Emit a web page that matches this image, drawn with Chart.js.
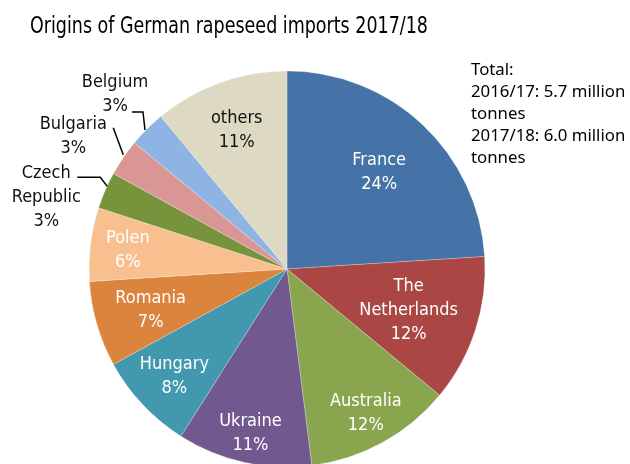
<!DOCTYPE html>
<html>
<head>
<meta charset="utf-8">
<script src="https://cdn.jsdelivr.net/npm/chart.js@4/dist/chart.umd.min.js"></script>
<style>
  html, body { margin: 0; padding: 0; background: #fff; overflow: hidden; width: 630px; height: 464px; }
  #wrap { position: absolute; left: 0; top: 0; width: 630px; height: 480px; }
</style>
</head>
<body>
<div id="wrap"><canvas id="c"></canvas></div>
<script>
// ---- data ----
const titleText = 'Origins of German rapeseed imports 2017/18';
const countries = ['France', 'The Netherlands', 'Australia', 'Ukraine', 'Hungary', 'Romania', 'Polen', 'Czech Republic', 'Bulgaria', 'Belgium', 'others'];
const shares = [24, 12, 12, 11, 8, 7, 6, 3, 3, 3, 11];
const noteLines = ['Total:', '2016/17: 5.7 million', 'tonnes', '2017/18: 6.0 million', 'tonnes'];

// ---- style ----
const colors = ['#4572A7', '#AA4643', '#89A54E', '#71588F', '#4198AF', '#DB843D', '#F9C08F', '#77933C', '#D99694', '#8EB4E3', '#DDD9C3'];
const condFamily = '"DejaVu Sans Condensed", "Liberation Sans Narrow", "DejaVu Sans", sans-serif';
const labelFont = '18px ' + condFamily;
// label line-breaks (layout only)
const labelLines = [['France'], ['The', 'Netherlands'], ['Australia'], ['Ukraine'], ['Hungary'], ['Romania'], ['Polen'], ['Czech', 'Republic'], ['Bulgaria'], ['Belgium'], ['others']];
const labelColor = ['#fff', '#fff', '#fff', '#fff', '#fff', '#fff', '#fff', '#111', '#111', '#111', '#111'];
const labelRadius = [0.68, 0.646, 0.826, 0.845, 0.78, 0.717, 0.81, null, null, null, 0.75];
// outside labels: offsets relative to the slice's outer-edge midpoint
const outside = {
  7: { line: [[2, -4], [-5, -13], [-28, -13]], text: [-59, 6] },
  8: { line: [[0, -3], [-10, -30]], text: [-50, -23] },
  9: { line: [[-2, 1], [-4, -17], [-15, -17]], text: [-32, -36] }
};
const lineGap = 24;

const labelPlugin = {
  id: 'sliceLabels',
  afterDatasetsDraw(chart) {
    const ctx = chart.ctx;
    const meta = chart.getDatasetMeta(0);
    ctx.save();
    ctx.font = labelFont;
    ctx.textAlign = 'center';
    ctx.textBaseline = 'alphabetic';
    meta.data.forEach((arc, i) => {
      const p = arc.getProps(['x', 'y', 'startAngle', 'endAngle', 'outerRadius'], true);
      const mid = (p.startAngle + p.endAngle) / 2;
      const lines = labelLines[i].concat([shares[i] + '%']);
      ctx.fillStyle = labelColor[i];
      let ax, ay;
      if (outside[i]) {
        const ex = p.x + Math.cos(mid) * p.outerRadius;
        const ey = p.y + Math.sin(mid) * p.outerRadius;
        const o = outside[i];
        ctx.strokeStyle = '#000';
        ctx.lineWidth = 1.5;
        ctx.beginPath();
        o.line.forEach((pt, k) => {
          if (k === 0) ctx.moveTo(ex + pt[0], ey + pt[1]); else ctx.lineTo(ex + pt[0], ey + pt[1]);
        });
        ctx.stroke();
        ax = ex + o.text[0]; ay = ey + o.text[1];
      } else {
        const r = p.outerRadius * labelRadius[i];
        ax = p.x + Math.cos(mid) * r;
        ay = p.y + Math.sin(mid) * r;
      }
      lines.forEach((t, k) => {
        ctx.fillText(t, ax, ay + (k - (lines.length - 1) / 2) * lineGap + 6);
      });
    });
    // title (condensed to the reference width)
    ctx.fillStyle = '#000';
    ctx.textAlign = 'left';
    ctx.font = '23px ' + condFamily;
    const tw = ctx.measureText(titleText).width;
    const sx = Math.min(1, 398 / tw);
    ctx.save();
    ctx.translate(30, 33);
    ctx.scale(sx, 1);
    ctx.fillText(titleText, 0, 0);
    ctx.restore();
    // note
    ctx.font = '16.8px "Noto Sans", "Open Sans", sans-serif';
    noteLines.forEach((t, k) => ctx.fillText(t, 471, 75 + k * 22));
    ctx.restore();
  }
};

new Chart(document.getElementById('c'), {
  type: 'pie',
  data: {
    labels: countries,
    datasets: [{
      data: shares,
      backgroundColor: colors,
      borderColor: 'rgba(255,255,255,0.5)',
      borderWidth: 0.5,
      hoverOffset: 0,
      offset: 0
    }]
  },
  options: {
    responsive: true,
    maintainAspectRatio: false,
    animation: false,
    radius: 198,
    layout: { padding: { left: 89, right: 145, top: 71, bottom: 13 } },
    plugins: { legend: { display: false }, tooltip: { enabled: false }, title: { display: false } },
    events: []
  },
  plugins: [labelPlugin]
});
</script>
</body>
</html>
